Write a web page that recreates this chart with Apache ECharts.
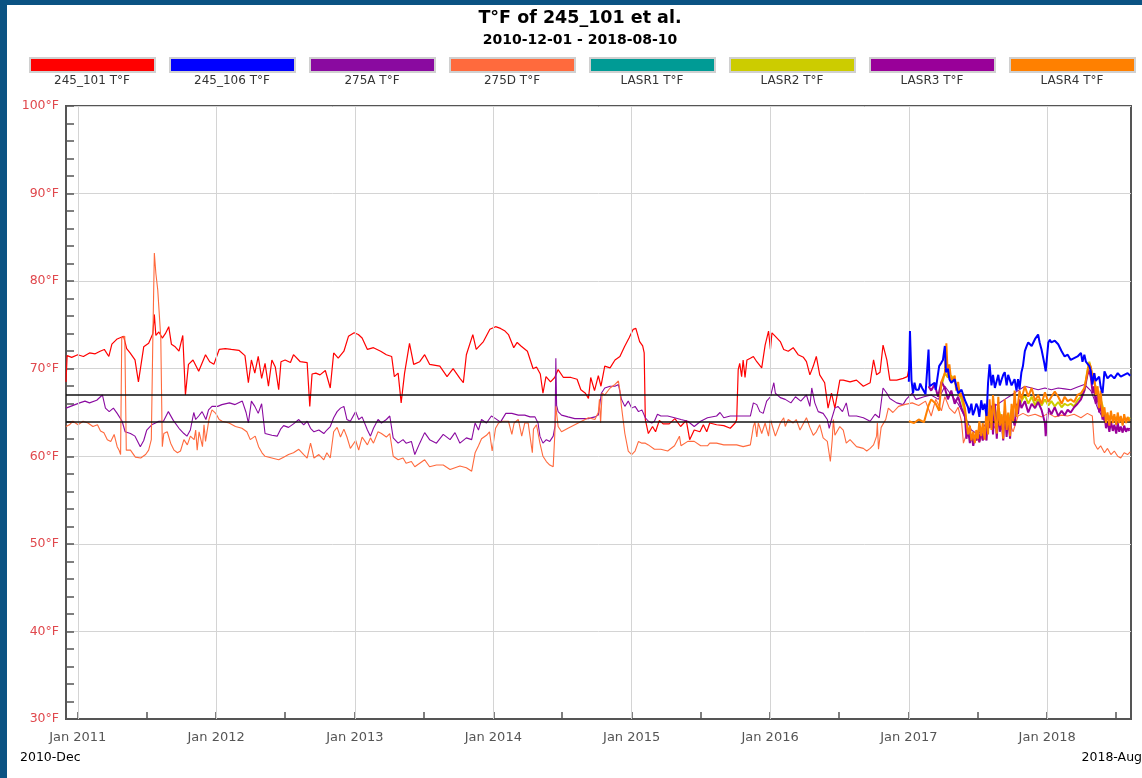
<!DOCTYPE html>
<html><head><meta charset="utf-8">
<script src="https://cdn.jsdelivr.net/npm/echarts@6/dist/echarts.min.js"></script>
<style>
html,body{margin:0;padding:0;background:#0b5383;width:1142px;height:778px;overflow:hidden}
#panel{position:absolute;left:7px;top:5px;width:1135px;height:773px;background:#fff}
#chart{width:1135px;height:773px}
</style></head><body><div id="panel"><div id="chart"></div></div>
<script>
const titleText = 'T°F of 245_101 et al.';
const subTitleText = '2010-12-01 - 2018-08-10';
const startLabel = '2010-Dec';
const endLabel = '2018-Aug';
const xMin = '2010-12-01';
const xMax = '2018-08-10';
const seriesNames = ['245_101 T°F','245_106 T°F','275A T°F','275D T°F','LASR1 T°F','LASR2 T°F','LASR3 T°F','LASR4 T°F'];
const seriesColors = ['#ff0000','#0000ff','#8a0aa0','#ff6a3d','#009b95','#cccc00','#990099','#ff8000'];
const yearTicks = ['2011-01-01','2012-01-01','2013-01-01','2014-01-01','2015-01-01','2016-01-01','2017-01-01','2018-01-01'];
const halfYearTicks = ['2011-01-01','2011-07-01','2012-01-01','2012-07-01','2013-01-01','2013-07-01','2014-01-01','2014-07-01','2015-01-01','2015-07-01','2016-01-01','2016-07-01','2017-01-01','2017-07-01','2018-01-01','2018-07-01'];
const refLines = [67, 64];

const s245_101 = [
['2010-12-01',68.5],['2010-12-04',71.5],['2010-12-16',71.3],['2011-01-01',71.6],['2011-01-16',71.4],['2011-02-01',71.8],['2011-02-16',71.7],['2011-03-01',72.0],['2011-03-12',72.2],['2011-03-24',71.4],['2011-04-01',72.8],['2011-04-15',73.4],['2011-05-02',73.7],['2011-05-10',72.3],['2011-05-19',71.8],['2011-06-01',71.0],['2011-06-10',68.5],['2011-06-15',68.4],['2011-06-24',72.5],['2011-07-07',72.9],['2011-07-18',74.0],['2011-07-22',76.2],['2011-07-26',73.8],['2011-08-03',74.2],['2011-08-12',73.5],['2011-08-20',74.0],['2011-08-29',74.8],['2011-09-05',72.8],['2011-09-15',72.5],['2011-09-25',72.0],['2011-10-05',73.8],['2011-10-12',67.0],['2011-10-20',70.5],['2011-11-01',71.0],['2011-11-16',69.7],['2011-12-04',71.6],['2011-12-15',70.8],['2011-12-26',70.5],['2012-01-09',72.2],['2012-01-25',72.3],['2012-02-10',72.2],['2012-03-01',72.1],['2012-03-17',71.5],['2012-03-26',68.4],['2012-04-03',71.0],['2012-04-12',69.5],['2012-04-21',71.4],['2012-04-30',68.9],['2012-05-09',70.6],['2012-05-18',68.0],['2012-05-27',71.0],['2012-06-05',70.2],['2012-06-14',67.6],
['2012-06-20',70.8],['2012-07-01',71.0],['2012-07-15',70.7],['2012-07-23',71.6],['2012-08-10',70.8],['2012-08-28',70.7],['2012-09-04',65.7],['2012-09-10',69.4],['2012-09-20',69.5],['2012-10-01',69.3],['2012-10-15',69.8],['2012-10-28',67.8],['2012-11-06',71.8],['2012-11-18',71.2],['2012-12-03',72.0],['2012-12-15',73.7],['2012-12-30',74.1],['2013-01-10',73.9],['2013-01-20',73.5],['2013-02-03',72.2],['2013-02-19',72.4],['2013-03-10',72.0],['2013-03-25',71.6],['2013-04-08',71.4],['2013-04-15',69.1],['2013-04-25',69.5],['2013-05-03',66.1],['2013-05-12',69.5],['2013-05-25',72.9],['2013-06-05',70.5],['2013-06-21',70.8],['2013-07-04',71.6],['2013-07-17',70.5],['2013-08-13',70.3],['2013-09-01',69.1],['2013-09-17',70.0],['2013-10-05',68.9],['2013-10-14',68.4],['2013-10-22',71.6],['2013-11-08',73.9],['2013-11-17',72.2],['2013-12-06',73.1],['2013-12-23',74.5],
['2014-01-07',74.8],['2014-01-20',74.6],['2014-02-01',74.3],['2014-02-10',73.9],['2014-02-24',72.4],['2014-03-05',73.0],['2014-03-15',72.6],['2014-04-01',72.0],['2014-04-16',70.0],['2014-04-25',70.2],['2014-05-05',69.4],['2014-05-12',67.2],['2014-05-20',69.1],['2014-06-01',68.5],['2014-06-12',69.0],['2014-06-21',69.9],['2014-07-05',69.0],['2014-07-25',69.0],['2014-08-10',68.8],['2014-08-20',67.6],['2014-09-01',67.2],['2014-09-09',66.6],['2014-09-15',69.0],['2014-09-25',67.5],['2014-10-05',69.2],['2014-10-12',68.0],['2014-10-22',70.3],['2014-11-05',70.1],['2014-11-18',71.0],['2014-12-01',71.4],['2014-12-13',72.5],['2014-12-25',73.5],['2015-01-05',74.5],['2015-01-12',74.6],['2015-01-22',73.1],['2015-01-30',72.6],['2015-02-03',71.8],['2015-02-06',64.2],['2015-02-14',62.6],['2015-02-25',63.4],['2015-03-05',62.8],['2015-03-15',64.1],['2015-03-25',63.7],['2015-04-10',63.7],['2015-04-25',64.3],['2015-05-10',63.4],['2015-05-25',64.1],['2015-06-03',61.9],['2015-06-15',63.0],['2015-06-30',62.8],['2015-07-09',63.6],
['2015-07-18',62.8],['2015-07-26',63.8],['2015-08-13',63.6],['2015-09-01',63.5],['2015-09-18',63.2],['2015-10-01',63.8],['2015-10-05',64.2],['2015-10-09',69.9],['2015-10-13',70.6],['2015-10-18',69.1],['2015-10-22',71.0],['2015-10-27',69.0],['2015-11-01',71.0],['2015-11-10',71.2],['2015-11-18',71.4],['2015-11-27',70.8],['2015-12-10',70.1],['2015-12-19',72.7],['2015-12-28',74.3],['2016-01-02',72.2],['2016-01-06',74.1],['2016-01-15',73.7],['2016-01-28',73.1],['2016-02-06',72.2],['2016-02-18',72.0],['2016-03-02',72.4],['2016-03-15',71.6],['2016-03-29',71.3],['2016-04-06',70.8],['2016-04-15',69.3],['2016-04-24',70.3],['2016-05-02',71.4],['2016-05-11',69.3],['2016-05-24',68.4],['2016-06-02',65.5],['2016-06-11',67.2],['2016-06-20',65.5],['2016-07-03',68.7],['2016-07-12',68.7],['2016-07-30',68.5],['2016-08-16',68.7],['2016-09-03',68.0],['2016-09-21',68.4],['2016-09-30',71.0],['2016-10-08',69.3],['2016-10-17',69.6],['2016-10-25',72.7],['2016-11-04',71.0],['2016-11-12',68.7],['2016-11-30',68.7],['2016-12-17',68.9],['2016-12-28',69.1],['2017-01-04',70.6]
];

const s245_106 = [
['2017-01-01',68.5],['2017-01-04',74.3],['2017-01-08',68.7],['2017-01-12',67.2],['2017-01-16',68.4],['2017-01-20',67.6],['2017-01-27',67.6],['2017-01-31',68.3],['2017-02-05',67.8],['2017-02-14',67.1],['2017-02-22',72.2],['2017-02-25',68.0],['2017-03-01',68.0],['2017-03-10',68.4],['2017-03-13',67.6],['2017-03-22',70.3],['2017-03-28',70.7],['2017-04-01',71.0],['2017-04-06',72.6],['2017-04-09',69.6],['2017-04-14',70.0],['2017-04-18',68.8],['2017-04-23',68.4],['2017-05-02',68.8],['2017-05-06',68.0],['2017-05-11',67.2],['2017-05-20',67.6],['2017-05-29',66.4],['2017-06-06',65.6],['2017-06-09',64.9],['2017-06-15',66.0],['2017-06-19',64.7],['2017-06-24',65.3],['2017-06-28',66.0],['2017-07-02',65.6],['2017-07-06',64.5],['2017-07-11',66.4],['2017-07-15',65.3],['2017-07-20',66.0],['2017-07-25',64.6],['2017-07-29',68.4],['2017-08-02',70.5],['2017-08-07',68.1],['2017-08-11',69.3],['2017-08-16',67.8],['2017-08-25',69.3],['2017-08-29',68.1],['2017-09-03',68.8],['2017-09-07',69.3],['2017-09-11',69.6],['2017-09-16',68.1],['2017-09-20',69.3],['2017-09-29',68.1],['2017-10-07',68.8],['2017-10-12',67.5],['2017-10-16',68.8],['2017-10-20',67.7],['2017-10-25',69.6],['2017-10-29',70.3],['2017-11-03',72.0],['2017-11-08',72.6],['2017-11-12',73.0],['2017-11-21',72.6],['2017-11-30',73.4],['2017-12-08',73.9],['2017-12-12',73.0],['2017-12-17',72.2],['2017-12-24',70.7],['2017-12-28',69.7],['2018-01-04',73.0],['2018-01-08',73.3],['2018-01-12',73.0],['2018-01-21',73.2],['2018-01-30',72.8],['2018-02-08',72.0],['2018-02-16',71.4],['2018-02-24',71.6],['2018-03-04',71.0],['2018-03-13',71.2],['2018-03-22',71.4],['2018-03-31',71.8],['2018-04-04',70.8],['2018-04-09',71.6],['2018-04-13',70.8],['2018-04-17',70.6],['2018-04-22',70.3],['2018-04-26',69.7],['2018-04-30',68.2],['2018-05-05',69.5],['2018-05-09',68.6],['2018-05-14',68.4],['2018-05-18',69.1],['2018-05-22',67.9],['2018-05-27',67.2],['2018-06-01',69.7],['2018-06-09',68.9],['2018-06-18',69.3],['2018-06-27',68.9],['2018-07-06',69.5],['2018-07-14',69.1],['2018-07-23',69.3],['2018-08-01',69.5],['2018-08-08',69.2]
];

const s275A = [
['2010-12-01',65.5],['2010-12-06',65.7],['2011-01-06',66.1],['2011-01-20',66.3],['2011-02-01',66.1],['2011-02-20',66.4],['2011-03-07',67.0],['2011-03-15',65.5],['2011-03-25',65.1],['2011-04-05',65.5],['2011-04-15',64.9],['2011-04-28',64.0],['2011-05-06',62.8],['2011-05-20',62.6],['2011-06-01',62.3],['2011-06-15',61.1],['2011-06-24',61.8],['2011-07-02',63.0],['2011-07-15',63.6],['2011-07-25',63.8],['2011-08-03',64.0],['2011-08-15',64.0],['2011-08-28',65.1],['2011-09-10',64.1],['2011-09-25',63.2],['2011-10-08',62.6],['2011-10-16',62.3],['2011-10-25',63.0],['2011-11-03',65.0],['2011-11-08',64.2],['2011-11-16',64.6],['2011-11-25',65.1],['2011-12-05',64.2],['2011-12-12',65.3],['2011-12-21',65.7],['2012-01-05',65.7],['2012-01-16',65.9],['2012-02-05',66.1],['2012-02-20',65.9],['2012-03-10',66.3],['2012-03-20',65.0],['2012-03-26',63.8],['2012-04-03',66.3],['2012-04-12',65.7],['2012-04-21',64.9],['2012-04-30',66.0],['2012-05-09',62.6],['2012-05-27',62.4],['2012-06-10',62.3],
['2012-06-19',63.1],['2012-06-27',63.5],['2012-07-10',63.3],['2012-07-23',63.7],['2012-08-06',64.2],['2012-08-19',63.6],['2012-08-28',64.0],['2012-09-06',63.2],['2012-09-15',62.8],['2012-09-28',63.0],['2012-10-11',62.6],['2012-10-19',63.0],['2012-10-28',63.4],['2012-11-06',64.4],['2012-11-15',65.1],['2012-11-24',65.5],['2012-12-03',65.7],['2012-12-11',64.2],['2012-12-20',64.0],['2013-01-03',65.1],['2013-01-11',64.2],['2013-01-20',64.5],['2013-02-03',63.0],['2013-02-11',62.3],['2013-02-19',63.2],['2013-03-03',64.2],['2013-03-12',63.8],['2013-03-25',64.2],['2013-04-03',64.6],['2013-04-12',62.1],['2013-04-25',61.5],['2013-05-08',61.9],['2013-05-16',61.5],['2013-05-30',61.7],['2013-06-08',60.2],['2013-06-21',61.5],['2013-07-04',62.7],['2013-07-17',61.9],['2013-08-04',61.5],['2013-08-22',62.5],['2013-09-09',61.9],['2013-09-22',62.7],['2013-10-05',61.5],['2013-10-22',62.1],['2013-11-05',61.9],['2013-11-14',63.8],['2013-11-23',63.0],['2013-12-01',64.2],['2013-12-14',63.8],['2013-12-27',64.6],
['2014-01-07',64.3],['2014-01-20',63.9],['2014-02-03',64.9],['2014-02-19',64.9],['2014-03-08',64.7],['2014-03-25',64.7],['2014-04-08',64.5],['2014-04-21',64.5],['2014-04-29',63.8],['2014-05-04',62.3],['2014-05-12',61.5],['2014-05-21',61.9],['2014-05-30',61.7],['2014-06-08',62.3],['2014-06-13',63.5],['2014-06-15',71.2],['2014-06-17',65.8],['2014-06-21',65.1],['2014-06-30',64.7],['2014-07-17',64.5],['2014-08-04',64.3],['2014-08-22',64.3],['2014-09-09',64.3],['2014-09-26',64.5],['2014-10-05',64.7],['2014-10-13',67.2],['2014-10-22',67.8],['2014-11-05',68.0],['2014-11-18',68.0],['2014-11-27',68.2],['2014-12-05',66.5],['2014-12-14',65.7],['2014-12-23',66.3],['2015-01-01',65.5],['2015-01-10',65.7],['2015-01-19',65.1],['2015-01-28',65.3],['2015-02-06',64.4],['2015-02-14',64.0],['2015-02-23',63.8],['2015-03-02',64.0],['2015-03-10',64.8],['2015-03-19',64.6],['2015-04-06',64.6],['2015-04-24',64.4],['2015-05-11',64.2],['2015-05-29',64.0],['2015-06-15',63.4],['2015-07-02',64.0],
['2015-07-20',64.4],['2015-08-13',64.6],['2015-08-22',65.0],['2015-09-01',64.4],['2015-09-18',64.6],['2015-10-05',64.6],['2015-10-22',64.6],['2015-11-10',64.6],['2015-11-18',66.1],['2015-11-27',65.9],['2015-12-05',65.1],['2015-12-14',64.9],['2015-12-23',66.3],['2016-01-02',66.8],['2016-01-11',68.4],['2016-01-15',67.2],['2016-01-28',66.7],['2016-02-10',66.5],['2016-02-25',66.1],['2016-03-08',66.8],['2016-03-22',66.3],['2016-04-06',67.0],['2016-04-15',65.7],['2016-04-20',67.8],['2016-04-28',66.1],['2016-05-07',65.1],['2016-05-20',64.9],['2016-05-31',64.2],['2016-06-05',63.2],['2016-06-11',64.2],['2016-06-20',65.5],['2016-06-28',65.7],['2016-07-10',65.1],['2016-07-20',66.1],['2016-07-27',64.6],['2016-08-16',64.6],['2016-09-03',64.4],['2016-09-21',64.0],['2016-10-04',64.8],['2016-10-15',64.4],['2016-10-25',67.8],['2016-11-04',67.2],['2016-11-12',66.6],['2016-11-30',66.1],['2016-12-17',65.9],['2016-12-25',66.5],['2017-01-10',67.2],
['2017-01-20',66.5],['2017-02-10',66.8],['2017-03-01',67.0],['2017-03-20',66.5],['2017-04-06',68.0],['2017-04-23',67.0],['2017-05-11',66.0],['2017-05-29',64.5],['2017-06-15',63.0],['2017-07-02',62.5],['2017-07-20',63.5],['2017-08-07',65.5],['2017-08-25',66.0],['2017-09-11',66.5],['2017-09-29',67.0],['2017-10-16',67.5],['2017-11-03',68.0],['2017-11-21',67.8],['2017-12-08',67.6],['2017-12-26',67.8],['2018-01-12',67.6],['2018-01-30',67.8],['2018-02-16',67.7],['2018-03-04',67.6],['2018-03-22',67.9],['2018-04-09',68.2],['2018-04-26',67.5],['2018-05-14',65.5],['2018-06-01',64.0],['2018-06-18',63.5],['2018-07-06',63.2],['2018-07-23',63.0],['2018-08-08',63.2]
];

const s275D = [
['2010-12-01',63.4],['2010-12-10',63.6],['2010-12-19',64.0],['2011-01-02',63.6],['2011-01-15',64.0],['2011-01-28',63.8],['2011-02-10',63.4],['2011-02-22',63.6],['2011-03-02',62.9],['2011-03-11',62.7],['2011-03-20',61.9],['2011-03-29',61.7],['2011-04-07',62.5],['2011-04-15',61.1],['2011-04-20',60.7],['2011-04-24',60.2],['2011-04-27',73.5],['2011-05-05',73.7],['2011-05-09',60.7],['2011-05-20',60.7],['2011-06-02',59.9],['2011-06-16',59.8],['2011-06-29',60.2],['2011-07-07',60.7],['2011-07-14',61.9],['2011-07-18',73.3],['2011-07-22',83.2],['2011-07-26',80.9],['2011-07-31',79.0],['2011-08-05',79.2],['2011-08-08',73.5],['2011-08-12',61.1],['2011-08-16',62.6],['2011-08-25',62.8],['2011-09-03',61.5],['2011-09-12',60.7],['2011-09-21',60.4],['2011-09-29',60.6],['2011-10-08',61.9],['2011-10-17',61.3],['2011-10-25',62.3],['2011-11-04',61.9],['2011-11-08',63.0],['2011-11-12',60.7],['2011-11-17',62.8],['2011-11-26',61.1],['2011-11-30',63.6],['2011-12-04',61.7],['2011-12-13',64.2],['2011-12-21',65.3],['2011-12-31',64.9],['2012-01-09',64.2],['2012-01-17',64.0],['2012-02-04',63.8],['2012-02-21',63.4],['2012-03-09',63.2],['2012-03-22',62.8],['2012-03-31',61.9],['2012-04-13',62.3],['2012-04-22',61.1],['2012-05-01',60.4],['2012-05-09',60.0],['2012-05-27',59.8],['2012-06-14',59.6],
['2012-06-19',59.4],['2012-06-27',59.9],['2012-07-10',60.2],['2012-07-23',60.4],['2012-08-06',60.8],['2012-08-19',60.2],['2012-08-28',59.8],['2012-09-06',61.5],['2012-09-10',60.8],['2012-09-15',59.8],['2012-09-28',60.2],['2012-10-11',59.6],['2012-10-19',60.4],['2012-10-28',59.8],['2012-11-06',62.8],['2012-11-15',63.3],['2012-11-24',62.2],['2012-12-03',63.1],['2012-12-11',62.2],['2012-12-20',60.9],['2013-01-03',61.8],['2013-01-11',60.7],['2013-01-20',62.2],['2013-02-03',61.3],['2013-02-11',62.1],['2013-02-19',61.5],['2013-03-03',62.8],['2013-03-12',62.6],['2013-03-25',62.2],['2013-04-03',62.6],['2013-04-12',60.0],['2013-04-25',59.6],['2013-05-08',59.8],['2013-05-16',59.2],['2013-05-30',59.4],['2013-06-08',58.8],['2013-06-21',59.2],['2013-07-04',59.6],['2013-07-17',58.8],['2013-08-04',59.0],['2013-08-22',59.0],['2013-09-09',58.5],['2013-09-22',58.7],['2013-10-05',58.9],['2013-10-22',58.7],['2013-11-05',58.3],['2013-11-14',60.4],['2013-11-23',61.2],['2013-12-01',62.0],['2013-12-14',62.4],['2013-12-22',62.8],
['2013-12-29',60.6],['2014-01-07',63.2],['2014-01-15',63.8],['2014-01-25',64.0],['2014-02-10',64.0],['2014-02-19',62.5],['2014-02-25',63.8],['2014-03-08',64.2],['2014-03-17',62.3],['2014-03-25',63.8],['2014-04-03',63.8],['2014-04-14',60.4],['2014-04-17',63.1],['2014-04-25',63.6],['2014-05-04',61.5],['2014-05-12',60.0],['2014-05-21',59.4],['2014-05-30',59.0],['2014-06-08',58.8],['2014-06-12',62.3],['2014-06-15',65.7],['2014-06-21',63.4],['2014-06-30',62.8],['2014-07-17',63.2],['2014-08-04',63.6],['2014-08-22',64.0],['2014-09-09',64.4],['2014-09-26',64.2],['2014-10-05',65.0],['2014-10-08',66.5],['2014-10-11',63.8],['2014-10-15',67.2],['2014-10-22',67.0],['2014-11-05',67.8],['2014-11-18',68.2],['2014-11-27',68.6],['2014-12-01',67.5],['2014-12-05',65.7],['2014-12-14',62.6],['2014-12-23',60.6],['2015-01-01',60.2],['2015-01-10',60.6],['2015-01-19',61.7],['2015-01-28',61.5],['2015-02-06',61.5],['2015-02-14',61.3],['2015-03-02',60.8],['2015-03-19',60.8],['2015-04-06',60.6],['2015-04-24',61.2],['2015-05-07',62.3],['2015-05-11',61.2],['2015-05-29',61.7],['2015-06-15',61.7],['2015-07-02',61.2],['2015-07-20',61.2],
['2015-07-26',61.5],['2015-08-13',61.5],['2015-09-01',61.3],['2015-09-18',61.3],['2015-10-05',61.3],['2015-10-22',61.1],['2015-11-10',61.3],['2015-11-18',63.4],['2015-11-22',63.9],['2015-11-27',62.2],['2015-12-01',63.8],['2015-12-10',62.6],['2015-12-19',63.8],['2015-12-28',62.3],['2016-01-02',64.2],['2016-01-06',63.6],['2016-01-15',62.3],['2016-01-28',63.8],['2016-02-06',64.4],['2016-02-10',63.4],['2016-02-18',64.2],['2016-03-02',63.8],['2016-03-10',64.2],['2016-03-20',63.0],['2016-04-06',64.4],['2016-04-15',63.3],['2016-04-24',62.4],['2016-05-02',62.8],['2016-05-11',63.6],['2016-05-20',62.1],['2016-05-31',61.7],['2016-06-08',59.4],['2016-06-13',61.9],['2016-06-16',64.2],['2016-06-20',62.4],['2016-07-03',63.4],['2016-07-12',63.0],['2016-07-20',61.5],['2016-07-30',61.9],['2016-08-16',61.1],['2016-09-03',60.9],['2016-09-12',60.6],['2016-09-21',60.9],['2016-09-30',61.3],['2016-10-08',62.3],['2016-10-10',63.8],['2016-10-13',60.8],['2016-10-20',63.3],['2016-10-25',63.4],['2016-11-01',64.2],['2016-11-08',65.5],['2016-11-20',65.0],['2016-12-05',65.7],['2016-12-20',65.9],['2017-01-10',66.1],
['2017-01-27',65.8],['2017-02-14',66.3],['2017-02-22',65.4],['2017-03-01',64.6],['2017-03-13',66.5],['2017-03-28',65.2],['2017-04-06',66.8],['2017-04-18',65.5],['2017-05-02',64.9],['2017-05-11',65.6],['2017-05-20',64.0],['2017-05-25',61.5],['2017-06-02',62.5],['2017-06-15',61.8],['2017-06-24',62.3],['2017-07-06',61.6],['2017-07-20',62.8],['2017-08-02',64.5],['2017-08-16',63.2],['2017-08-25',64.8],['2017-09-07',63.0],['2017-09-20',64.2],['2017-10-03',62.8],['2017-10-16',64.6],['2017-10-29',64.9],['2017-11-12',64.6],['2017-11-30',64.8],['2017-12-17',64.5],['2018-01-04',64.9],['2018-01-21',64.5],['2018-02-08',64.7],['2018-02-24',64.6],['2018-03-13',64.8],['2018-03-31',64.4],['2018-04-17',64.9],['2018-04-30',64.6],['2018-05-05',61.5],['2018-05-14',60.8],['2018-05-22',61.2],['2018-06-01',60.4],['2018-06-09',60.9],['2018-06-18',60.2],['2018-06-27',60.6],['2018-07-06',60.0],['2018-07-14',59.8],['2018-07-23',60.4],['2018-08-01',60.2],['2018-08-08',60.5]
];

const sLASR1 = [];

const sLASR2 = [
['2017-03-28',68.0],['2017-04-06',69.5],['2017-04-14',69.0],['2017-04-23',69.2],['2017-05-02',68.5],['2017-05-11',67.6],['2017-05-20',66.5],['2017-05-29',65.0],['2017-06-06',62.8],['2017-06-15',62.0],['2017-06-24',61.8],['2017-07-02',62.2],['2017-07-11',62.6],['2017-07-20',62.2],['2017-07-29',64.0],['2017-08-07',65.0],['2017-08-16',64.0],['2017-08-25',65.5],['2017-09-03',64.0],['2017-09-11',65.0],['2017-09-20',63.8],['2017-09-29',65.3],['2017-10-07',66.0],['2017-10-16',65.5],['2017-10-25',66.3],['2017-11-03',67.0],['2017-11-12',66.0],['2017-11-21',66.8],['2017-11-30',65.8],['2017-12-08',66.5],['2017-12-17',65.8],['2017-12-26',66.5],['2018-01-04',65.8],['2018-01-12',66.3],['2018-01-21',65.7],['2018-01-30',66.2],['2018-02-08',65.6],['2018-02-16',66.0],['2018-02-24',65.8],['2018-03-04',66.0],['2018-03-13',65.7],['2018-03-22',66.4],['2018-03-31',66.8],['2018-04-09',67.5],['2018-04-17',69.8],['2018-04-22',70.8],['2018-04-26',70.0],['2018-05-05',68.5],['2018-05-14',67.2],['2018-05-22',66.5],['2018-06-01',65.0],['2018-06-09',64.5],['2018-06-18',64.6],['2018-06-27',64.3],['2018-07-06',64.5],['2018-07-14',64.0],['2018-07-23',64.3],['2018-08-01',64.2],['2018-08-08',64.4]
];

const sLASR3 = [
['2017-02-22',68.0],['2017-03-01',67.5],['2017-03-10',68.2],['2017-03-19',66.8],['2017-03-28',68.5],['2017-04-06',67.8],['2017-04-14',66.5],['2017-04-23',67.5],['2017-05-02',66.0],['2017-05-11',66.8],['2017-05-20',65.5],['2017-05-29',64.5],['2017-06-02',62.0],['2017-06-06',63.2],['2017-06-11',61.5],['2017-06-15',62.5],['2017-06-20',61.2],['2017-06-24',62.2],['2017-06-28',61.8],['2017-07-02',62.8],['2017-07-06',61.6],['2017-07-11',63.0],['2017-07-15',61.8],['2017-07-20',62.5],['2017-07-25',61.8],['2017-07-29',65.0],['2017-08-02',63.2],['2017-08-07',65.8],['2017-08-11',62.5],['2017-08-16',66.0],['2017-08-21',62.0],['2017-08-25',65.5],['2017-08-29',62.8],['2017-09-03',64.0],['2017-09-07',61.8],['2017-09-11',65.2],['2017-09-16',62.2],['2017-09-20',64.5],['2017-09-25',62.0],['2017-09-29',65.0],['2017-10-07',63.5],['2017-10-12',66.0],['2017-10-16',64.8],['2017-10-20',66.5],['2017-10-25',65.5],['2017-11-03',66.3],['2017-11-12',65.0],['2017-11-21',66.0],['2017-11-30',65.5],['2017-12-08',66.2],['2017-12-17',65.3],['2017-12-26',63.8],['2017-12-28',62.3],['2018-01-04',65.5],['2018-01-12',64.8],['2018-01-21',65.6],['2018-01-30',64.6],['2018-02-08',65.2],['2018-02-16',64.7],['2018-02-24',65.3],['2018-03-04',65.0],['2018-03-13',65.6],['2018-03-22',66.0],['2018-03-31',66.5],['2018-04-09',67.5],['2018-04-17',69.3],['2018-04-22',69.8],['2018-04-26',69.0],['2018-05-01',67.2],['2018-05-05',68.0],['2018-05-09',66.0],['2018-05-14',67.0],['2018-05-18',65.0],['2018-05-22',66.0],['2018-05-27',64.2],['2018-06-01',64.8],['2018-06-05',63.2],['2018-06-09',64.0],['2018-06-14',62.8],['2018-06-18',64.0],['2018-06-23',62.9],['2018-06-27',63.6],['2018-07-02',62.6],['2018-07-06',63.8],['2018-07-10',62.8],['2018-07-14',63.4],['2018-07-19',62.7],['2018-07-23',63.5],['2018-07-28',62.8],['2018-08-01',63.2],['2018-08-06',62.9]
];

const sLASR4 = [
['2017-01-01',64.0],['2017-01-15',63.8],['2017-01-27',64.2],['2017-02-10',63.9],['2017-02-22',65.8],['2017-03-01',66.5],['2017-03-13',66.0],['2017-03-22',65.2],['2017-03-28',68.5],['2017-04-06',69.5],['2017-04-10',72.9],['2017-04-14',69.0],['2017-04-18',70.5],['2017-04-23',68.5],['2017-05-02',69.2],['2017-05-06',67.5],['2017-05-11',68.5],['2017-05-16',66.8],['2017-05-20',67.2],['2017-05-29',65.5],['2017-06-02',64.0],['2017-06-06',62.5],['2017-06-11',63.5],['2017-06-15',61.8],['2017-06-20',62.8],['2017-06-24',61.5],['2017-06-28',63.0],['2017-07-02',62.0],['2017-07-06',64.0],['2017-07-11',62.3],['2017-07-15',63.8],['2017-07-20',61.9],['2017-07-25',65.5],['2017-07-29',62.5],['2017-08-02',66.5],['2017-08-07',63.0],['2017-08-11',67.0],['2017-08-16',64.5],['2017-08-21',62.6],['2017-08-25',66.8],['2017-08-29',63.5],['2017-09-03',64.8],['2017-09-07',62.0],['2017-09-11',66.5],['2017-09-16',63.0],['2017-09-20',65.0],['2017-09-25',62.3],['2017-09-29',66.0],['2017-10-03',64.0],['2017-10-07',67.5],['2017-10-12',64.5],['2017-10-16',66.0],['2017-10-20',67.5],['2017-10-25',66.5],['2017-11-03',68.0],['2017-11-12',66.8],['2017-11-21',67.8],['2017-11-30',66.3],['2017-12-08',67.0],['2017-12-17',66.0],['2017-12-26',67.3],['2018-01-04',66.2],['2018-01-12',66.8],['2018-01-21',67.4],['2018-01-30',66.8],['2018-02-08',66.0],['2018-02-16',66.8],['2018-02-24',66.3],['2018-03-04',66.5],['2018-03-13',66.2],['2018-03-22',67.0],['2018-03-31',67.2],['2018-04-09',67.8],['2018-04-17',69.6],['2018-04-22',70.6],['2018-04-26',70.2],['2018-05-01',69.0],['2018-05-05',69.5],['2018-05-09',67.0],['2018-05-14',68.0],['2018-05-18',65.5],['2018-05-22',67.5],['2018-05-27',64.5],['2018-06-01',65.6],['2018-06-05',63.8],['2018-06-09',65.0],['2018-06-14',63.5],['2018-06-18',65.2],['2018-06-23',63.8],['2018-06-27',64.8],['2018-07-02',63.6],['2018-07-06',65.0],['2018-07-10',63.8],['2018-07-14',64.6],['2018-07-19',63.5],['2018-07-23',64.8],['2018-07-28',63.8],['2018-08-01',64.5],['2018-08-06',64.0]
];

const FONT = '"DejaVu Sans", Verdana, sans-serif';
const OX = 7, OY = 5;
function ts(s){ const p = s.split('-').map(Number); return new Date(p[0], p[1]-1, p[2]).getTime(); }
const dataBySeries = [s245_101, s245_106, s275A, s275D, sLASR1, sLASR2, sLASR3, sLASR4];
const widths = [1.2, 2, 1.1, 1.1, 2, 2, 2, 2];
const zs = [2, 6, 2, 2, 3, 3, 4, 5];

const series = seriesNames.map((n, i) => ({
  name: n, type: 'line', data: dataBySeries[i].map(d => [ts(d[0]), d[1]]),
  showSymbol: false, symbol: 'none', animation: false, silent: true,
  lineStyle: { color: seriesColors[i], width: widths[i] },
  itemStyle: { color: seriesColors[i] }, z: zs[i]
}));
series.push({
  type: 'line', data: [], silent: true, animation: false, z: 1,
  markLine: { silent: true, animation: false, symbol: ['none','none'], label: { show: false },
    lineStyle: { color: '#d4d4d4', width: 1, type: 'solid' },
    data: yearTicks.map(t => ({ xAxis: ts(t) })) }
});
series.push({
  type: 'line', data: [], silent: true, animation: false, z: 8,
  markLine: { silent: true, animation: false, symbol: ['none','none'], label: { show: false },
    lineStyle: { color: '#111', width: 1.5, type: 'solid' },
    data: refLines.map(v => ({ yAxis: v })) }
});

const graphics = [
  { type: 'text', x: 580 - OX, y: 18 - OY, style: { text: titleText, fill: '#000', font: 'bold 17.5px ' + FONT, align: 'center', verticalAlign: 'middle' } },
  { type: 'text', x: 580 - OX, y: 40 - OY, style: { text: subTitleText, fill: '#000', font: 'bold 14px ' + FONT, align: 'center', verticalAlign: 'middle' } },
  { type: 'text', x: 20 - OX, y: 758 - OY, style: { text: startLabel, fill: '#000', font: '12.5px ' + FONT, align: 'left', verticalAlign: 'middle' } },
  { type: 'text', x: 1142 - OX, y: 758 - OY, style: { text: endLabel, fill: '#000', font: '12.5px ' + FONT, align: 'right', verticalAlign: 'middle' } }
];
seriesNames.forEach((n, i) => {
  const cx = 92 + 140 * i - OX;
  graphics.push({ type: 'rect', shape: { x: cx - 62, y: 58 - OY, width: 125, height: 14 },
    style: { fill: seriesColors[i], stroke: '#d0d0d0', lineWidth: 2 } });
  graphics.push({ type: 'text', x: cx, y: 81 - OY,
    style: { text: n, fill: '#333', font: '12px ' + FONT, align: 'center', verticalAlign: 'middle' } });
});

const chart = echarts.init(document.getElementById('chart'), null, { renderer: 'canvas' });
chart.setOption({
  animation: false,
  backgroundColor: '#ffffff',
  grid: { left: 66 - OX, right: 11, top: 106 - OY, bottom: 59, show: true, borderColor: '#555', borderWidth: 2, backgroundColor: 'transparent' },
  xAxis: {
    type: 'value', min: ts(xMin), max: ts(xMax), scale: true,
    axisLine: { show: true, lineStyle: { color: '#555', width: 2 } },
    axisTick: { show: true, inside: true, length: 7, lineStyle: { color: '#555', width: 1.5 }, customValues: halfYearTicks.map(ts) },
    axisLabel: { customValues: yearTicks.map(ts), formatter: v => 'Jan ' + new Date(v).getFullYear(),
      color: '#555', fontSize: 13, fontFamily: FONT, margin: 12, hideOverlap: false },
    splitLine: { show: false }
  },
  yAxis: {
    type: 'value', min: 30, max: 100, interval: 10,
    axisLine: { show: true, lineStyle: { color: '#555', width: 2 } },
    axisTick: { show: true, inside: true, length: 8, lineStyle: { color: '#555', width: 1.5 } },
    minorTick: { show: true, splitNumber: 5, length: 8, lineStyle: { color: '#555', width: 1.5 } },
    axisLabel: { formatter: '{value}°F', color: '#e0484d', fontSize: 12.5, fontFamily: FONT, margin: 7 },
    splitLine: { show: true, lineStyle: { color: '#d4d4d4', width: 1 } }
  },
  graphic: graphics,
  series: series
});
</script></body></html>
